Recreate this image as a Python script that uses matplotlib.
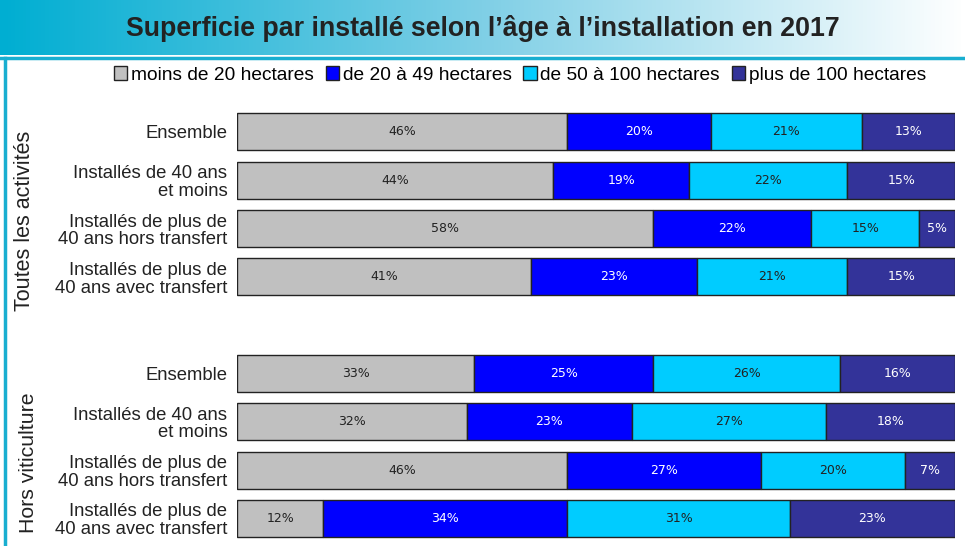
import numpy as np
import matplotlib
matplotlib.use("Agg")
import matplotlib.pyplot as plt
from matplotlib.patches import Patch
from matplotlib.colors import LinearSegmentedColormap

plt.rcParams['font.family'] = ['Liberation Sans', 'DejaVu Sans']

title = "Superficie par installé selon l’âge à l’installation en 2017"
series = ["moins de 20 hectares", "de 20 à 49 hectares",
          "de 50 à 100 hectares", "plus de 100 hectares"]
colors = ["#c0c0c0", "#0000ff", "#00ccff", "#333399"]
text_colors = ["#222222", "white", "#222222", "white"]

groups = ["Toutes les activités", "Hors viticulture"]
categories = ["Ensemble",
              "Installés de 40 ans\net moins",
              "Installés de plus de\n40 ans hors transfert",
              "Installés de plus de\n40 ans avec transfert"]

# values per row (group 1 then group 2), one list per series
moins20 = [46, 44, 58, 41, 33, 32, 46, 12]
de20a49 = [20, 19, 22, 23, 25, 23, 27, 34]
de50a100 = [21, 22, 15, 21, 26, 27, 20, 31]
plus100 = [13, 15, 5, 15, 16, 18, 7, 23]
values = np.array([moins20, de20a49, de50a100, plus100])

W, H = 965, 546
fig = plt.figure(figsize=(W / 100, H / 100), dpi=100)

# title band with gradient
tax = fig.add_axes([0, 1 - 55 / H, 1, 55 / H])
cmap = LinearSegmentedColormap.from_list("band", ["#00aed2", "#7fcfe6", "#ffffff"])
tax.imshow(np.linspace(0, 1, 256)[None, :], aspect="auto", cmap=cmap, extent=[0, 1, 0, 1])
tax.set_xlim(0, 1)
tax.set_ylim(0, 1)
tax.axis("off")
tax.text(0.5, 0.48, title, ha="center", va="center", fontsize=19.3,
         fontweight="bold", color="#222222")

# panel frame lines
fig.add_artist(plt.Line2D([0, 1], [1 - 57.5 / H] * 2, color="#19aed0", lw=2.5,
                          transform=fig.transFigure))
fig.add_artist(plt.Line2D([4.5 / W] * 2, [0, 1 - 57.5 / H], color="#19aed0", lw=2.5,
                          transform=fig.transFigure))

# bars
ax = fig.add_axes([237 / W, 0, (955 - 237) / W, 1 - 100 / H])
ypos = np.concatenate([np.arange(4), 5 + np.arange(4)])
left = np.zeros(len(ypos))
for i in range(4):
    ax.barh(ypos, values[i], left=left, height=0.77, color=colors[i],
            edgecolor="#222222", linewidth=1)
    for y, l, v in zip(ypos, left, values[i]):
        ax.text(l + v / 2, y, f"{v}%", ha="center", va="center",
                fontsize=9, color=text_colors[i], family="DejaVu Sans")
    left = left + values[i]

ax.set_xlim(0, 100)
ax.set_ylim(8.57, -0.66)
ax.set_yticks(ypos)
ax.set_yticklabels(categories * 2, fontsize=13.3, color="#222222", linespacing=1.05)
ax.tick_params(axis="y", length=0, pad=7)
ax.set_xticks([])
for s in ax.spines.values():
    s.set_visible(False)

fig.text(25 / W, 1 - 221 / H, groups[0], rotation=90, ha="center", va="center",
         fontsize=15.5, color="#222222")
fig.text(29 / W, 1 - 463 / H, groups[1], rotation=90, ha="center", va="center",
         fontsize=15.3, color="#222222")

handles = [Patch(facecolor=c, edgecolor="#222222", linewidth=1) for c in colors]
fig.legend(handles, series, loc="center", bbox_to_anchor=(520 / W, 1 - 75 / H),
           ncol=4, frameon=False, fontsize=13.8, handlelength=0.7, handleheight=0.7,
           handletextpad=0.2, columnspacing=0.6, borderpad=0)

fig.savefig("out.png", dpi=100)
